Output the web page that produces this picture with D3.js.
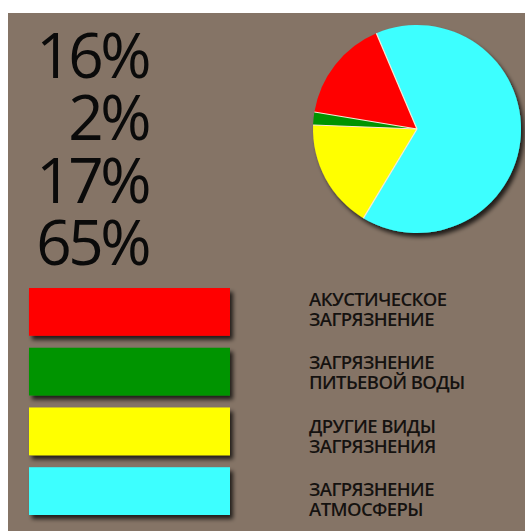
<!DOCTYPE html>
<html>
<head>
<meta charset="utf-8">
<script src="https://cdn.jsdelivr.net/npm/d3@7"></script>
<style>
  html, body { margin: 0; padding: 0; background: #fff; }
  svg { display: block; }
</style>
</head>
<body>
<script>
// donnees du graphique
const categories = ["АКУСТИЧЕСКОЕ|ЗАГРЯЗНЕНИЕ", "ЗАГРЯЗНЕНИЕ|ПИТЬЕВОЙ ВОДЫ", "ДРУГИЕ ВИДЫ|ЗАГРЯЗНЕНИЯ", "ЗАГРЯЗНЕНИЕ|АТМОСФЕРЫ"];
const values = [16, 2, 17, 65];
const colors = ["#ff0000", "#009400", "#ffff00", "#3cffff"];
const labels = ["16%", "2%", "17%", "65%"];

const width = 525, height = 531;

const svg = d3.select("body").append("svg")
    .attr("width", width)
    .attr("height", height);

// ombre portee
const defs = svg.append("defs");
const shadow = defs.append("filter")
    .attr("id", "shadow")
    .attr("x", "-10%").attr("y", "-10%")
    .attr("width", "130%").attr("height", "140%");
shadow.append("feDropShadow")
    .attr("dx", 3).attr("dy", 4)
    .attr("stdDeviation", 2)
    .attr("flood-color", "#000")
    .attr("flood-opacity", 0.75);

// fond
svg.append("rect")
    .attr("x", 8).attr("y", 13)
    .attr("width", width - 8).attr("height", height - 13)
    .attr("fill", "#857466");

// pourcentages a gauche
const yLabels = d3.scalePoint()
    .domain(labels)
    .range([78, 265]);

svg.selectAll(".pct")
    .data(labels)
    .enter().append("text")
    .attr("class", "pct")
    .attr("x", 148)
    .attr("y", d => yLabels(d))
    .attr("text-anchor", "end")
    .style("font-family", "'Open Sans', sans-serif")
    .style("font-size", "62px")
    .style("letter-spacing", "-3.5px")
    .attr("fill", "#0a0a0a")
    .text(d => d);

// camembert
const radius = 104;
const startA = -23 * Math.PI / 180;
const pie = d3.pie()
    .sort(null)
    .startAngle(startA)
    .endAngle(startA - 2 * Math.PI);
const arcs = pie(values);
const arc = d3.arc().innerRadius(0).outerRadius(radius);

const pieG = svg.append("g")
    .attr("transform", "translate(417,129)");

const slices = pieG.append("g").attr("filter", "url(#shadow)");
slices.selectAll("path")
    .data(arcs)
    .enter().append("path")
    .attr("d", arc)
    .attr("fill", (d, i) => colors[i]);

// lignes claires entre les parts
pieG.selectAll("line.sep")
    .data(arcs)
    .enter().append("line")
    .attr("class", "sep")
    .attr("x1", 0).attr("y1", 0)
    .attr("x2", d => radius * Math.sin(d.startAngle))
    .attr("y2", d => -radius * Math.cos(d.startAngle))
    .attr("stroke", "#fbe9d6")
    .attr("stroke-width", 1.2);

// legende : barres
const yBars = d3.scaleBand()
    .domain(d3.range(categories.length))
    .range([288, 515])
    .paddingInner(0.2);

svg.selectAll(".bar")
    .data(categories)
    .enter().append("rect")
    .attr("class", "bar")
    .attr("x", 29)
    .attr("y", (d, i) => yBars(i))
    .attr("width", 201)
    .attr("height", yBars.bandwidth())
    .attr("fill", (d, i) => colors[i])
    .attr("filter", "url(#shadow)");

// legende : textes
const yText = d3.scalePoint()
    .domain(d3.range(categories.length))
    .range([306, 496]);

const txt = svg.selectAll(".leg")
    .data(categories)
    .enter().append("text")
    .attr("class", "leg")
    .attr("x", 309)
    .attr("y", (d, i) => yText(i))
    .style("font-family", "'Open Sans', sans-serif")
    .style("font-size", "18.5px")
    .style("font-weight", "600")
    .style("letter-spacing", "-0.6px")
    .attr("fill", "#151210");

txt.selectAll("tspan")
    .data(d => d.split("|"))
    .enter().append("tspan")
    .attr("x", 309)
    .attr("dy", (d, i) => i === 0 ? 0 : 20)
    .text(d => d);
</script>
</body>
</html>
